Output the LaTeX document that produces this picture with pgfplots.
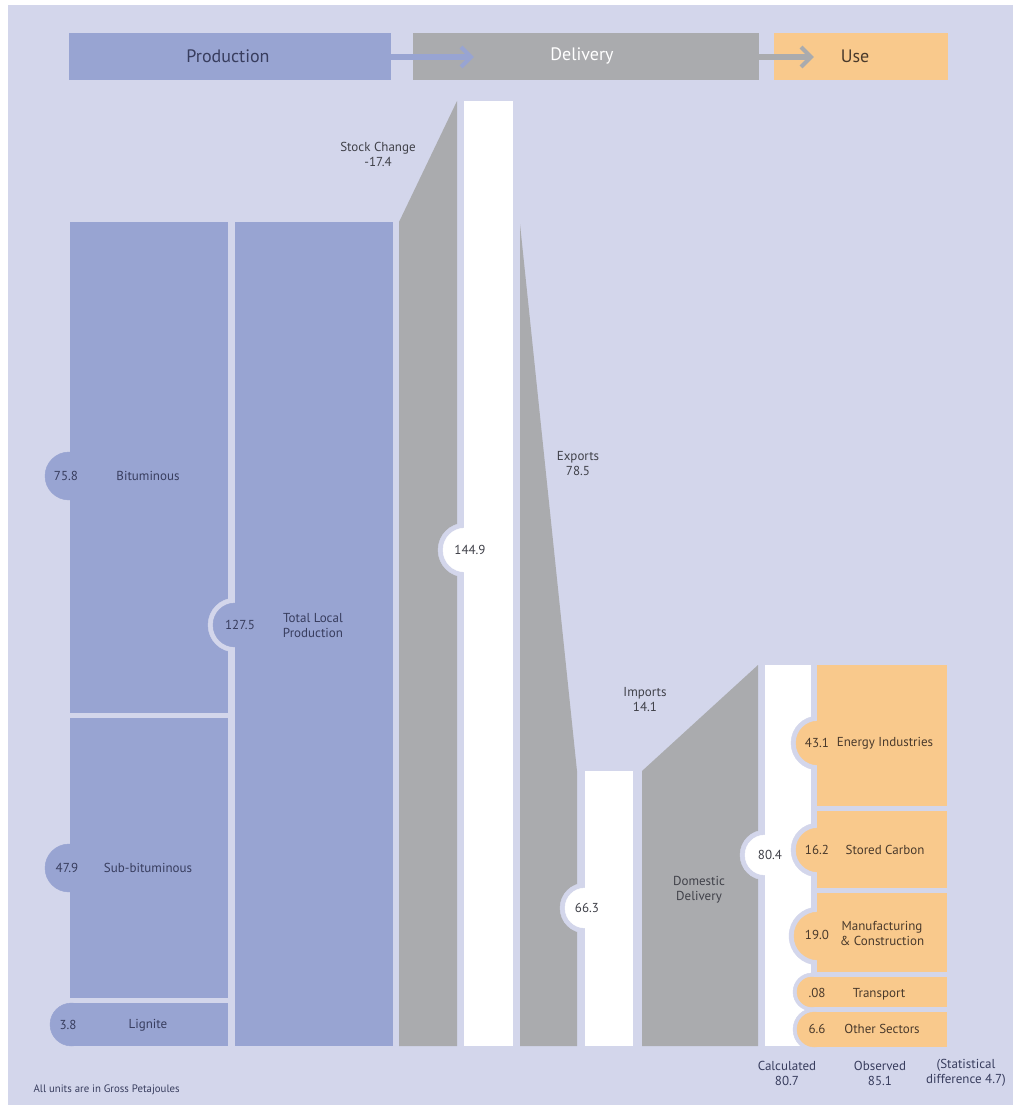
\documentclass[border=0pt]{standalone}
\usepackage{fontspec}
\setmainfont{PT Sans}
\usepackage{pgfplots}
\pgfplotsset{compat=1.18}

\definecolor{lav}{HTML}{D3D6EB}
\definecolor{prod}{HTML}{98A4D2}
\definecolor{deliv}{HTML}{AAABAE}
\definecolor{usec}{HTML}{F9C98C}
\definecolor{navy}{HTML}{383D5E}
\definecolor{dgray}{HTML}{404149}
\definecolor{brown}{HTML}{4A3A2C}

\newcommand{\lbl}{\fontsize{13}{15}\selectfont}

\begin{document}
\begin{tikzpicture}
\begin{axis}[
    width=1013pt, height=1105pt, scale only axis,
    xmin=0, xmax=1013, ymin=0, ymax=1105,
    y dir=reverse, hide axis,
    clip marker paths=true,
]
% page and background
\addplot[fill=white, draw=none] coordinates {(0,0) (1013,0) (1013,1105) (0,1105)} -- cycle;
\addplot[fill=lav, draw=none] coordinates {(8,5) (1013,5) (1013,1105) (8,1105)} -- cycle;

% header
\addplot[fill=prod, draw=none] coordinates {(69,33) (391,33) (391,80) (69,80)} -- cycle;
\addplot[fill=deliv, draw=none] coordinates {(413,33) (759,33) (759,80) (413,80)} -- cycle;
\addplot[fill=usec, draw=none] coordinates {(774,33) (948,33) (948,80) (774,80)} -- cycle;
\addplot[draw=prod, line width=6pt] coordinates {(391,57) (470,57)};
\addplot[draw=prod, line width=4pt] coordinates {(461,47) (471,57) (461,67)};
\addplot[draw=deliv, line width=6pt] coordinates {(759,57) (810,57)};
\addplot[draw=deliv, line width=4pt] coordinates {(801,47) (811,57) (801,67)};

% production sources
\addplot[fill=prod, draw=none] coordinates {(70,222) (228,222) (228,713) (70,713)} -- cycle;
\addplot[fill=prod, draw=none] coordinates {(70,718) (228,718) (228,998) (70,998)} -- cycle;
\addplot[fill=prod, draw=none] coordinates {(72,1003) (228,1003) (228,1046) (72,1046)} -- cycle;
\addplot[only marks, mark=*, prod, mark size=21.5pt] coordinates {(71.5,1024.5)};
\addplot[only marks, mark=*, prod, mark size=24pt] coordinates {(69,476) (69,868)};

% total local production
\addplot[only marks, mark=*, lav, mark size=27pt] coordinates {(235,625)};
\addplot[fill=prod, draw=none] coordinates {(235,222) (393,222) (393,1046) (235,1046)} -- cycle;
\addplot[only marks, mark=*, prod, mark size=22pt] coordinates {(235,625)};

% stock change
\addplot[fill=deliv, draw=none] coordinates {(399,222) (457,101) (457,1046) (399,1046)} -- cycle;

% supply 144.9
\addplot[only marks, mark=*, lav, mark size=27pt] coordinates {(465,550)};
\addplot[fill=white, draw=none] coordinates {(464,101) (513,101) (513,1046) (464,1046)} -- cycle;
\addplot[only marks, mark=*, white, mark size=22pt] coordinates {(465,550)};

% exports
\addplot[fill=deliv, draw=none] coordinates {(520,224) (577,771) (577,1046) (520,1046)} -- cycle;

% 66.3
\addplot[only marks, mark=*, lav, mark size=25pt] coordinates {(585,908)};
\addplot[fill=white, draw=none] coordinates {(585,771) (633,771) (633,1046) (585,1046)} -- cycle;
\addplot[only marks, mark=*, white, mark size=20pt] coordinates {(585,908)};

% imports / domestic delivery
\addplot[fill=deliv, draw=none] coordinates {(642,771) (758,665) (758,1046) (642,1046)} -- cycle;

% 80.4
\addplot[only marks, mark=*, lav, mark size=25pt] coordinates {(765,855)};
\addplot[fill=white, draw=none] coordinates {(765,665) (811,665) (811,1046) (765,1046)} -- cycle;
\addplot[only marks, mark=*, white, mark size=20pt] coordinates {(765,855)};

% use sectors
\addplot[only marks, mark=*, lav, mark size=27pt] coordinates {(818,743) (818,850)};
\addplot[only marks, mark=*, lav, mark size=29pt] coordinates {(818,936)};
\addplot[only marks, mark=*, lav, mark size=19pt] coordinates {(812,992)};
\addplot[only marks, mark=*, lav, mark size=21.5pt] coordinates {(814.5,1029.5)};
\addplot[fill=usec, draw=none] coordinates {(817,665) (947,665) (947,806) (817,806)} -- cycle;
\addplot[fill=usec, draw=none] coordinates {(817,811) (947,811) (947,888) (817,888)} -- cycle;
\addplot[fill=usec, draw=none] coordinates {(817,893) (947,893) (947,972) (817,972)} -- cycle;
\addplot[fill=usec, draw=none] coordinates {(812,977) (947,977) (947,1007) (812,1007)} -- cycle;
\addplot[fill=usec, draw=none] coordinates {(814,1012) (947,1012) (947,1047) (814,1047)} -- cycle;
\addplot[only marks, mark=*, usec, mark size=22pt] coordinates {(818,743) (818,850)};
\addplot[only marks, mark=*, usec, mark size=24pt] coordinates {(818,936)};
\addplot[only marks, mark=*, usec, mark size=15pt] coordinates {(812,992)};
\addplot[only marks, mark=*, usec, mark size=17.5pt] coordinates {(814.5,1029.5)};

% header text
\node[font=\fontsize{18}{20}\selectfont, text=navy] at (228,56) {Production};
\node[font=\fontsize{18}{20}\selectfont, text=white] at (582,56) {Delivery};
\node[font=\fontsize{18}{20}\selectfont, text=brown] at (855,56) {Use};

% production labels
\node[font=\lbl, text=navy] at (66,476) {75.8};
\node[font=\lbl, text=navy] at (148,476) {Bituminous};
\node[font=\lbl, text=navy] at (67,868) {47.9};
\node[font=\lbl, text=navy] at (148,868) {Sub-bituminous};
\node[font=\lbl, text=navy] at (68,1025) {3.8};
\node[font=\lbl, text=navy] at (148,1025) {Lignite};
\node[font=\lbl, text=navy] at (240,625) {127.5};
\node[font=\lbl, text=navy, align=center] at (313,626) {Total Local\\Production};

% delivery labels
\node[font=\lbl, text=dgray, align=center] at (378,154) {Stock Change\\-17.4};
\node[font=\lbl, text=dgray] at (470,550) {144.9};
\node[font=\lbl, text=dgray, align=center] at (578,464) {Exports\\78.5};
\node[font=\lbl, text=dgray, align=center] at (645,700) {Imports\\14.1};
\node[font=\lbl, text=dgray] at (587,908) {66.3};
\node[font=\lbl, text=dgray, align=center] at (699,890) {Domestic\\Delivery};
\node[font=\lbl, text=dgray] at (770,855) {80.4};

% use labels
\node[font=\lbl, text=brown] at (817,743) {43.1};
\node[font=\lbl, text=brown] at (885,743) {Energy Industries};
\node[font=\lbl, text=brown] at (817,850) {16.2};
\node[font=\lbl, text=brown] at (885,850) {Stored Carbon};
\node[font=\lbl, text=brown] at (817,935) {19.0};
\node[font=\lbl, text=brown, align=center] at (882,933) {Manufacturing\\\&\ Construction};
\node[font=\lbl, text=brown] at (817,993) {.08};
\node[font=\lbl, text=brown] at (879,994) {Transport};
\node[font=\lbl, text=brown] at (817,1029) {6.6};
\node[font=\lbl, text=brown] at (882,1029) {Other Sectors};

% bottom
\node[font=\lbl, text=navy, align=center] at (787,1073) {Calculated\\80.7};
\node[font=\lbl, text=navy, align=center] at (880,1073) {Observed\\85.1};
\node[font=\lbl, text=navy, align=center] at (966,1073) {(Statistical\\difference 4.7)};
\node[font=\fontsize{10.8}{12}\selectfont, text=navy, anchor=west] at (30,1090) {All units are in Gross Petajoules};
\end{axis}
\end{tikzpicture}
\end{document}
